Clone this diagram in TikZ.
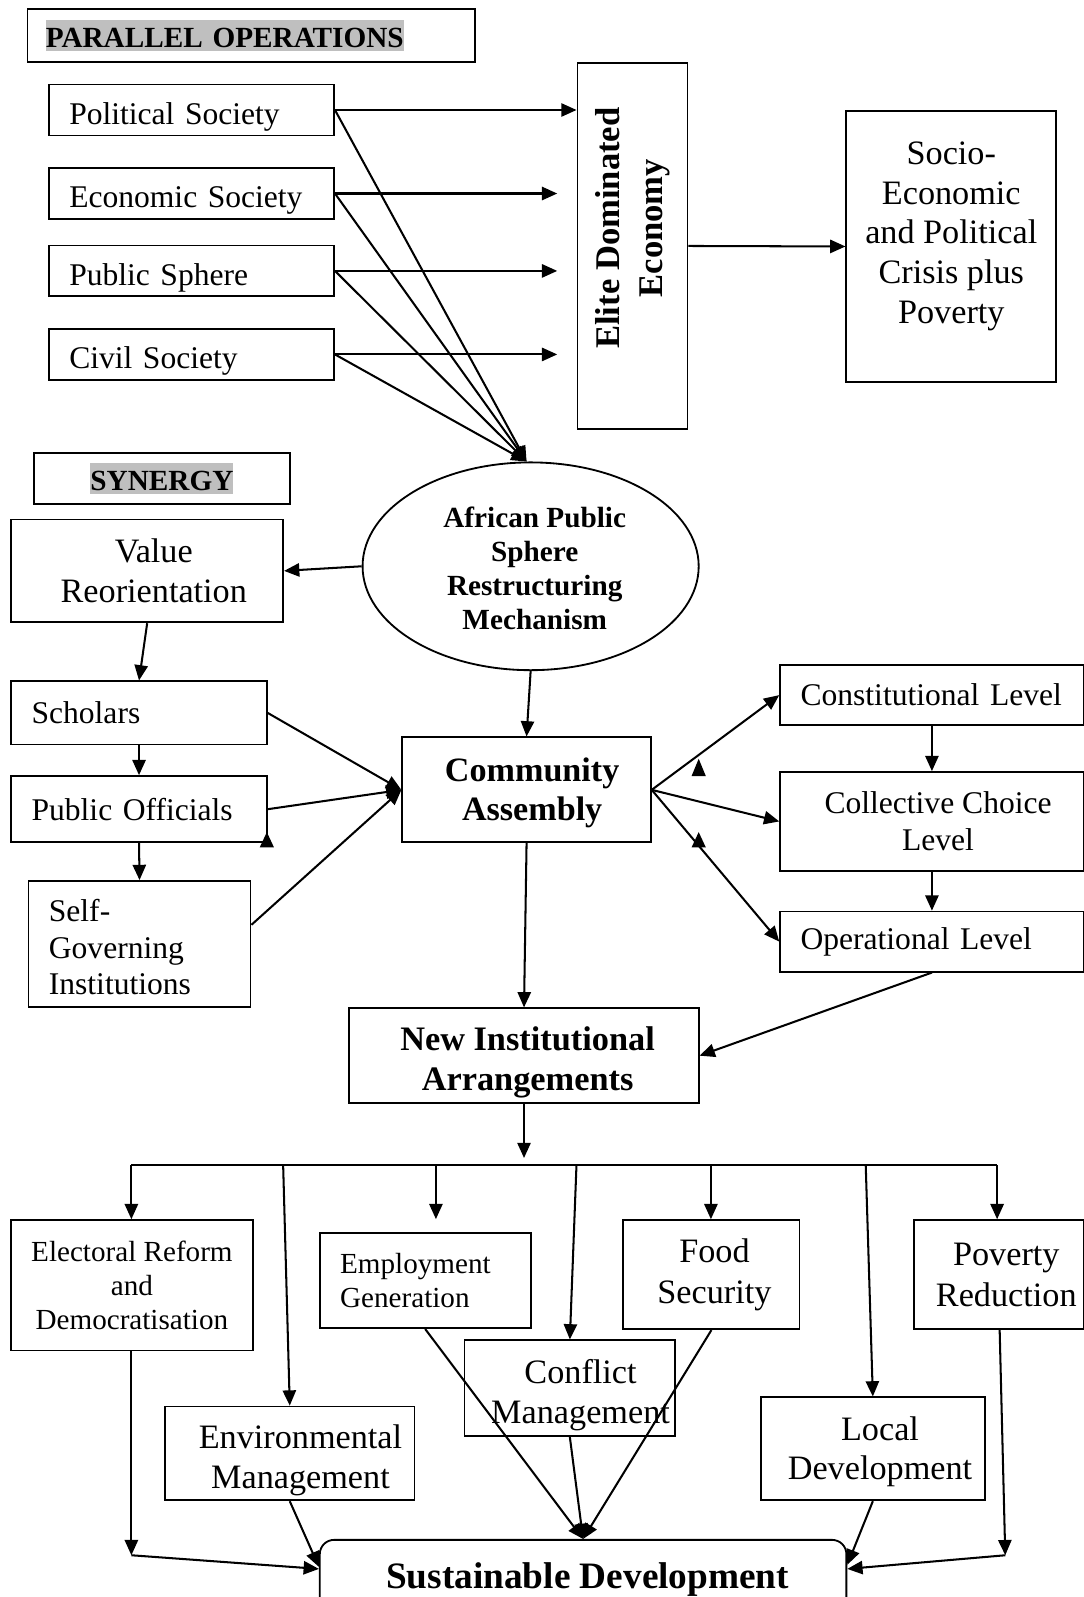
\documentclass[tikz,border=0pt]{standalone}
\usepackage{fontspec}
\setmainfont{Liberation Serif}
\usetikzlibrary{arrows.meta,shapes.geometric,calc}
\definecolor{hl}{RGB}{191,191,191}
\newcommand{\myhl}[1]{{\setlength{\fboxsep}{0pt}\colorbox{hl}{\vrule width 0pt height 27pt depth 4pt\relax #1}}}
\newcommand{\fsA}{\fontsize{31}{36}\selectfont}
\newcommand{\fsB}{\fontsize{33.6}{39}\selectfont}
\newcommand{\fsC}{\fontsize{28.6}{33.4}\selectfont}
\begin{document}
\begin{tikzpicture}[x=1pt,y=-1pt,
  bx/.style={draw, line width=1.8pt, inner sep=0pt, align=center},
  lbx/.style={bx, align=left},
  arr/.style={line width=2pt, -{Triangle[length=15pt,width=13pt]}},
  ln/.style={line width=2pt},
  tri/.style={fill=black}]
\fill[white] (0,0) rectangle (1064,1568);
\useasboundingbox (0,0) rectangle (1064,1568);

% ---------- parallel operations ----------
\node[lbx, minimum width=439pt, minimum height=52pt, text width=403pt,
  font=\fontsize{28.7}{33}\selectfont\bfseries] (tpar) at (246.5,35) {\myhl{PARALLEL OPERATIONS}};

\node[lbx, minimum width=280pt, minimum height=50pt, text width=240pt, font=\fsA,
  text height=28pt, text depth=0pt] (pol) at (188,108) {Political Society};
\node[lbx, minimum width=280pt, minimum height=50pt, text width=240pt, font=\fsA,
  text height=28pt, text depth=0pt] (eco) at (188,190) {Economic Society};
\node[lbx, minimum width=280pt, minimum height=50pt, text width=240pt, font=\fsA,
  text height=28pt, text depth=0pt] (pub) at (188,266) {Public Sphere};
\node[lbx, minimum width=280pt, minimum height=50pt, text width=240pt, font=\fsA,
  text height=28pt, text depth=0pt] (civ) at (188,348) {Civil Society};

\node[bx, minimum width=108pt, minimum height=359pt,
  font=\fontsize{34}{42}\selectfont\bfseries] (elite) at (621,241.5)
  {\rotatebox{90}{\begin{tabular}{@{}c@{}}\hspace*{35pt}Elite Dominated\\ \hspace*{35pt}Economy\end{tabular}}};

\node[bx, minimum width=206pt, minimum height=266pt, font=\fsB] (soc) at (934,242)
  {\parbox[c][266pt][c]{200pt}{\centering Socio-\\Economic\\and Political\\Crisis plus\\Poverty\par\vspace{20pt}}};

% ---------- synergy ----------
\node[bx, minimum width=252pt, minimum height=50pt,
  font=\fontsize{28.7}{33}\selectfont\bfseries] (tsyn) at (159,470) {\myhl{SYNERGY}};

\node[draw, ellipse, line width=1.8pt, minimum width=330pt, minimum height=204pt, inner sep=0pt,
  align=center, font=\fontsize{28.7}{33.4}\selectfont\bfseries] (aps) at (521,556)
  {\rule{0pt}{24pt}\hspace*{8pt}African Public\\\hspace*{8pt}Sphere\\\hspace*{8pt}Restructuring\\\hspace*{8pt}Mechanism};

\node[bx, minimum width=267pt, minimum height=101pt, font=\fsB] (val) at (144.5,560.5)
  {\hspace*{13pt}Value\\\hspace*{13pt}Reorientation};
\node[lbx, minimum width=251pt, minimum height=62pt, text width=211pt, font=\fsA] (sch) at (136.5,700) {Scholars};
\node[lbx, minimum width=251pt, minimum height=65pt, text width=211pt, font=\fsA] (pof) at (136.5,794.5) {Public Officials};
\node[lbx, minimum width=218pt, minimum height=124pt, text width=178pt, font=\fsA] (sgi) at (137,927)
  {\rule{0pt}{28pt}Self-\\Governing\\Institutions};

\node[bx, minimum width=244pt, minimum height=103pt,
  font=\fontsize{33.5}{39}\selectfont\bfseries] (com) at (517,775.5)
  {\rule{0pt}{29pt}\hspace*{11pt}Community\\\hspace*{11pt}Assembly};

\node[lbx, minimum width=298pt, minimum height=59pt, text width=258pt, font=\fsA] (con) at (915,682.5) {Constitutional Level};
\node[bx, minimum width=298pt, minimum height=97pt, font=\fsA] (col) at (915,806.5)
  {\hspace*{12pt}Collective Choice\\\hspace*{12pt}Level};
\node[lbx, minimum width=298pt, minimum height=59pt, text width=258pt, font=\fsA] (ope) at (915,924.5) {Operational Level};

\node[bx, minimum width=343pt, minimum height=93pt,
  font=\fontsize{33.7}{39}\selectfont\bfseries] (nia) at (514.5,1036.5)
  {\rule{0pt}{37pt}\hspace*{7pt}New Institutional\\\hspace*{7pt}Arrangements};

% ---------- outcomes ----------
\node[bx, minimum width=237pt, minimum height=128pt, font=\fsC] (ele) at (129.5,1262)
  {Electoral Reform\\and\\Democratisation};
\node[lbx, minimum width=207pt, minimum height=93pt, text width=167pt,
  font=\fontsize{28.6}{33}\selectfont] (emp) at (417.5,1257.5) {Employment\\Generation};
\node[bx, minimum width=173pt, minimum height=107pt, font=\fontsize{33.6}{40}\selectfont] (foo) at (698.5,1251.5)
  {\hspace*{6pt}Food\\\hspace*{6pt}Security};
\node[bx, minimum width=167pt, minimum height=107pt, font=\fontsize{33.6}{40}\selectfont] (pov) at (980.5,1251.5)
  {\hspace*{15pt}Poverty\\\hspace*{15pt}Reduction};
\node[bx, minimum width=207pt, minimum height=94pt, font=\fsB] (cnf) at (559.5,1363)
  {\rule{0pt}{37pt}\hspace*{21pt}Conflict\\\hspace*{21pt}Management};
\node[bx, minimum width=245pt, minimum height=92pt, font=\fsB] (env) at (284.5,1427)
  {\rule{0pt}{37pt}\hspace*{21pt}Environmental\\\hspace*{21pt}Management};
\node[bx, minimum width=220pt, minimum height=101pt, font=\fsB] (loc) at (857,1422.5)
  {\rule{0pt}{29pt}\hspace*{14pt}Local\\\hspace*{14pt}Development};

\node[bx, rounded corners=14pt, minimum width=517pt, minimum height=77pt, anchor=north,
  font=\fontsize{36.6}{42}\selectfont\bfseries] (sus) at (572.5,1511) {\hspace*{9pt}Sustainable Development};

% ---------- connectors: top ----------
\draw[arr] (pol.east) -- (pol.east -| elite.west);
\draw[arr, shorten >=19pt] (eco.east) -- (eco.east -| elite.west);
\draw[arr, shorten >=19pt] (pub.east) -- (pub.east -| elite.west);
\draw[arr, shorten >=19pt] (civ.east) -- (civ.east -| elite.west);
\draw[arr] (pol.east) -- ($(aps.north)+(-4,0)$);
\draw[arr] (eco.east) -- ($(aps.north)+(-4,0)$);
\draw[arr] (pub.east) -- ($(aps.north)+(-4,0)$);
\draw[arr] (civ.east) -- ($(aps.north)+(-4,0)$);
\draw[arr] (elite.east) -- (soc.west);

% ---------- connectors: synergy ----------
\draw[arr] (aps.west) -- (val.east);
\draw[arr] (val.south) -- (sch.north);
\draw[arr] (sch.south) -- (pof.north);
\draw[arr] (pof.south) -- (sgi.north);
\draw[arr] (aps.south) -- (com.north);
\draw[arr] (sch.east) -- (com.west);
\draw[arr] (pof.east) -- (com.west);
\draw[arr] ($(sgi.east)+(0,-19)$) -- (com.west);
\draw[arr] (com.east) -- (con.west);
\draw[arr] (com.east) -- (col.west);
\draw[arr] (com.east) -- (ope.west);
\draw[arr] (con.south) -- (col.north);
\draw[arr] (col.south) -- (ope.north);
\draw[arr] (com.south) -- (nia.north);
\draw[arr] (ope.south) -- (nia.east);

% stray arrowheads
\fill[tri] (255,832) -- (269,832) -- (262,817) -- cycle;
\fill[tri] (679,762) -- (693,762) -- (686,745) -- cycle;
\fill[tri] (679,832) -- (693,832) -- (686,817) -- cycle;

% ---------- bus ----------
\coordinate (hub) at (514.5,1137);
\coordinate (busL) at (129,1144);
\coordinate (bus2) at (278,1144);
\coordinate (bus3) at (428,1144);
\coordinate (bus4) at (566,1144);
\coordinate (bus5) at (698,1144);
\coordinate (bus6) at (850,1144);
\coordinate (busR) at (979,1144);
\coordinate (e3) at (428,1197);
\draw[arr] (nia.south) -- (hub);
\draw[ln] (busL) -- (busR);
\draw[arr] (busL) -- (ele.north -| busL);
\draw[arr] (bus2) -- (env.north);
\draw[arr] (bus3) -- (e3);
\draw[arr] (bus4) -- (cnf.north);
\draw[arr] (bus5) -- (foo.north -| bus5);
\draw[arr] (bus6) -- (loc.north);
\draw[arr] (busR) -- (pov.north -| busR);

% ---------- bottom ----------
\coordinate (eleD) at (129,1527);
\coordinate (povD) at (987,1527);
\draw[arr] (ele.south -| eleD) -- (eleD);
\draw[arr] (eleD) -- ($(sus.west)+(0,-10)$);
\draw[arr] (env.south) -- ($(sus.west)+(0,-12)$);
\draw[arr] (emp.south) -- (sus.north);
\draw[arr] (cnf.south) -- (sus.north);
\draw[arr] (foo.south) -- (sus.north);
\draw[arr] (loc.south) -- ($(sus.east)+(0,-14)$);
\draw[arr] ($(pov.south)+(1,0)$) -- (povD);
\draw[arr] (povD) -- ($(sus.east)+(0,-10)$);
\end{tikzpicture}
\end{document}
